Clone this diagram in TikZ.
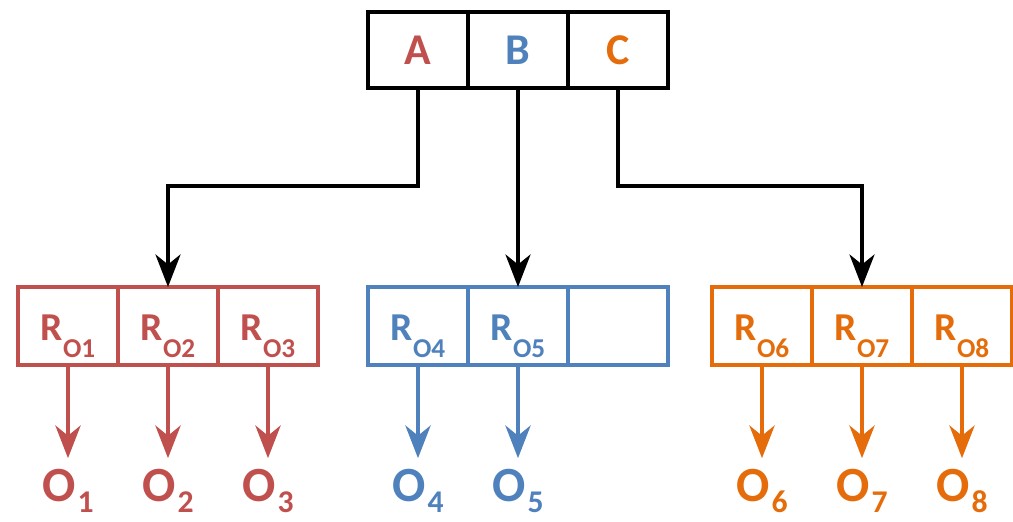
\documentclass[tikz,border=0pt]{standalone}
\usepackage{fontspec}
\setmainfont{Carlito}
\usetikzlibrary{arrows.meta,positioning}
\definecolor{ored}{HTML}{C0504D}
\definecolor{oblue}{HTML}{4F81BD}
\definecolor{oorange}{HTML}{E46C0A}
% lowered subscripts as in the slide
\newcommand{\rsub}[2]{#1\raisebox{-10pt}{\fontsize{15.5}{16}\selectfont\bfseries #2}}
\newcommand{\osub}[1]{O\kern1pt\raisebox{-6.5pt}{\fontsize{18}{18}\selectfont\bfseries #1}}

\begin{document}
\begin{tikzpicture}[
  x=0.2mm, y=-0.2mm,
  cell/.style={draw, line width=2.2pt, minimum width=20mm, minimum height=15.6mm,
    inner sep=0pt, outer sep=0pt},
  topcell/.style={cell, minimum height=15.2mm, font=\fontsize{25}{28}\selectfont\bfseries},
  rcell/.style={cell, font=\fontsize{22.5}{25}\selectfont\bfseries, text height=16pt,
    text depth=0pt},
  olab/.style={anchor=base, inner sep=0pt, outer sep=6pt,
    font=\fontsize{28}{30}\selectfont\bfseries},
  arrow/.style={-{Stealth[length=6.5mm, width=5mm, inset=2mm]}, line width=2.3pt},
  carrow/.style={arrow, line width=2.8pt},
  node distance=0pt
]
\useasboundingbox (0,0) rectangle (1013,521);

% top record
\node[topcell] (A) at (418,50) {\textcolor{ored}{A}};
\node[topcell,right=of A] (B) {\textcolor{oblue}{B}};
\node[topcell,right=of B] (C) {\textcolor{oorange}{C}};

% lower records
\node[rcell,draw=ored,text=ored] (r1) at (68,326) {\rsub{R}{O1}};
\node[rcell,draw=ored,text=ored,right=of r1] (r2) {\rsub{R}{O2}};
\node[rcell,draw=ored,text=ored,right=of r2] (r3) {\rsub{R}{O3}};

\node[rcell,draw=oblue,text=oblue] (r4) at (418,326) {\rsub{R}{O4}};
\node[rcell,draw=oblue,text=oblue,right=of r4] (r5) {\rsub{R}{O5}};
\node[rcell,draw=oblue,right=of r5] (r0) {};

\node[rcell,draw=oorange,text=oorange] (r6) at (762,326) {\rsub{R}{O6}};
\node[rcell,draw=oorange,text=oorange,right=of r6] (r7) {\rsub{R}{O7}};
\node[rcell,draw=oorange,text=oorange,right=of r7] (r8) {\rsub{R}{O8}};

% outputs
\node[olab,text=ored] (o1) at (r1 |- 0,501) {\osub{1}};
\node[olab,text=ored] (o2) at (r2 |- 0,501) {\osub{2}};
\node[olab,text=ored] (o3) at (r3 |- 0,501) {\osub{3}};
\node[olab,text=oblue] (o4) at (r4 |- 0,501) {\osub{4}};
\node[olab,text=oblue] (o5) at (r5 |- 0,501) {\osub{5}};
\node[olab,text=oorange] (o6) at (r6 |- 0,501) {\osub{6}};
\node[olab,text=oorange] (o7) at (r7 |- 0,501) {\osub{7}};
\node[olab,text=oorange] (o8) at (r8 |- 0,501) {\osub{8}};

\draw[arrow] (A.south) -- ++(0,98) -| (r2.north);
\draw[arrow] (B.south) -- (r5.north);
\draw[arrow] (C.south) -- ++(0,98) -| (r7.north);

\draw[carrow,ored] (r1) -- (o1);
\draw[carrow,ored] (r2) -- (o2);
\draw[carrow,ored] (r3) -- (o3);
\draw[carrow,oblue] (r4) -- (o4);
\draw[carrow,oblue] (r5) -- (o5);
\draw[carrow,oorange] (r6) -- (o6);
\draw[carrow,oorange] (r7) -- (o7);
\draw[carrow,oorange] (r8) -- (o8);
\end{tikzpicture}
\end{document}
